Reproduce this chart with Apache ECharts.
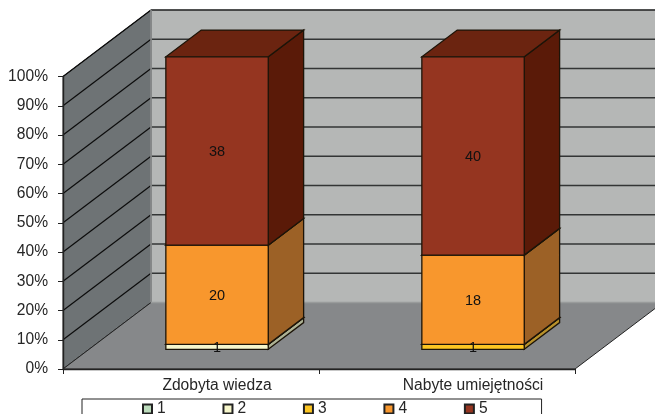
<!DOCTYPE html>
<html>
<head>
<meta charset="utf-8">
<style>
  html, body { margin: 0; padding: 0; background: #fff; }
  #chart { width: 655px; height: 414px; }
</style>
<script src="https://cdn.jsdelivr.net/npm/echarts@6/dist/echarts.min.js"></script>
</head>
<body>
<div id="chart"></div>
<script>
const categories = ["Zdobyta wiedza", "Nabyte umiejętności"];
const levels = ["1", "2", "3", "4", "5"];
const level1 = [0, 0];
const level2 = [1, 0];
const level3 = [0, 1];
const level4 = [20, 18];
const level5 = [38, 40];
const gridTicks = [0, 10, 20, 30, 40, 50, 60, 70, 80, 90, 100];

const levelValues = [level1, level2, level3, level4, level5];
const frontColors = ["#bcdcbc", "#f7f7cc", "#fcc522", "#f8972d", "#953520"];
const sideColors = ["#7f947f", "#adb294", "#b8912a", "#9c6126", "#5a1a08"];
const topColors = ["#94ad94", "#c4c69e", "#cfa326", "#b87a2a", "#6b2410"];

const FONT = "'Liberation Sans', Arial, sans-serif";
const TEXT = "#262626";
const EDGE = "#1c1408";
// how far the chart box goes back, in pixels
const BOX_X = 88;
const BOX_Y = 66.5;
// front and back of the bars inside that depth
const BAR_FRONT = 0.296;
const BAR_BACK = 0.698;

// percent stack for each category
const totals = categories.map((c, i) => levelValues.reduce((sum, v) => sum + v[i], 0));

function stackData(levelIndex) {
  return categories.map((c, i) => {
    let below = 0;
    for (let k = 0; k < levelIndex; k++) below += levelValues[k][i];
    const value = levelValues[levelIndex][i];
    return [i, below / totals[i] * 100, (below + value) / totals[i] * 100, value];
  });
}

function poly(points, fill, z2) {
  return {
    type: "polygon",
    z2: z2 || 0,
    shape: { points: points },
    style: { fill: fill, stroke: EDGE, lineWidth: 1.3 }
  };
}

function renderBox(params, api) {
  const sys = params.coordSys;
  const left = sys.x;
  const right = sys.x + sys.width;
  const top = sys.y;
  const bottom = sys.y + sys.height;
  const children = [
    { type: "polygon", shape: { points: [[left + BOX_X, top - BOX_Y], [right + BOX_X, top - BOX_Y], [right + BOX_X, bottom - BOX_Y], [left + BOX_X, bottom - BOX_Y]] }, style: { fill: "#b5b7b6", stroke: "#444", lineWidth: 1 } },
    { type: "polygon", shape: { points: [[left, top], [left + BOX_X, top - BOX_Y], [left + BOX_X, bottom - BOX_Y], [left, bottom]] }, style: { fill: "#6e7375", stroke: "#222", lineWidth: 1 } },
    { type: "polygon", shape: { points: [[left, bottom], [right, bottom], [right + BOX_X, bottom - BOX_Y], [left + BOX_X, bottom - BOX_Y]] }, style: { fill: "#86888a", stroke: "#222", lineWidth: 1 } }
  ];
  gridTicks.forEach(t => {
    const y = api.coord([0, t])[1];
    if (t > 0) {
      children.push({ type: "line", shape: { x1: left + BOX_X, y1: y - BOX_Y, x2: right + BOX_X, y2: y - BOX_Y }, style: { stroke: "#333535", lineWidth: 1.6 } });
      children.push({ type: "line", shape: { x1: left, y1: y, x2: left + BOX_X, y2: y - BOX_Y }, style: { stroke: "#0c0c0c", lineWidth: 1.2 } });
    }
  });
  // light edges where the walls meet
  children.push({ type: "line", shape: { x1: left + BOX_X, y1: top - BOX_Y, x2: left + BOX_X, y2: bottom - BOX_Y }, style: { stroke: "#999b9b", lineWidth: 1.5 } });
  children.push({ type: "line", shape: { x1: left + BOX_X, y1: bottom - BOX_Y, x2: right + BOX_X, y2: bottom - BOX_Y }, style: { stroke: "#999b9b", lineWidth: 1.5 } });
  return { type: "group", children: children };
}

function renderSegment(params, api) {
  const value = api.value(3);
  if (!value) return null;
  const levelIndex = params.seriesIndex - 1;
  const band = api.size([1, 0])[0];
  const barWidth = band / 2.5;
  const center = api.coord([api.value(0), 0])[0];
  const low = api.coord([api.value(0), api.value(1)])[1];
  const high = api.coord([api.value(0), api.value(2)])[1];
  const fx = BOX_X * BAR_FRONT;
  const fy = BOX_Y * BAR_FRONT;
  const bx = BOX_X * BAR_BACK;
  const by = BOX_Y * BAR_BACK;
  const x0 = center - barWidth / 2 + fx;
  const x1 = center + barWidth / 2 + fx;
  const dx = bx - fx;
  const dy = by - fy;
  const y0 = low - fy;
  const y1 = high - fy;
  return {
    type: "group",
    children: [
      poly([[x1, y0], [x1 + dx, y0 - dy], [x1 + dx, y1 - dy], [x1, y1]], sideColors[levelIndex]),
      poly([[x0, y1], [x1, y1], [x1 + dx, y1 - dy], [x0 + dx, y1 - dy]], topColors[levelIndex]),
      poly([[x0, y0], [x1, y0], [x1, y1], [x0, y1]], frontColors[levelIndex]),
      {
        type: "text",
        z2: 100,
        style: {
          x: (x0 + x1) / 2,
          y: (y0 + y1) / 2 + 1,
          text: String(value),
          align: "center",
          verticalAlign: "middle",
          fill: "#111",
          font: "14.5px " + FONT
        }
      }
    ]
  };
}

const series = [
  {
    type: "custom",
    name: "box",
    z: 1,
    silent: true,
    renderItem: renderBox,
    data: [[0, 0]],
    encode: { x: 0, y: 1 }
  }
].concat(levels.map((name, i) => ({
  type: "custom",
  name: name,
  z: 2,
  silent: true,
  renderItem: renderSegment,
  itemStyle: { color: frontColors[i], borderColor: "#222", borderWidth: 1 },
  data: stackData(i),
  encode: { x: 0, y: [1, 2] }
})));

const chart = echarts.init(document.getElementById("chart"), null, { renderer: "canvas" });
chart.setOption({
  animation: false,
  backgroundColor: "#fff",
  grid: { left: 63, right: 80, top: 76.5, bottom: 45 },
  legend: {
    left: 82,
    top: 399,
    padding: [2, 54, 10, 60],
    orient: "horizontal",
    data: levels,
    icon: "rect",
    itemWidth: 9,
    itemHeight: 9,
    itemGap: 56.8,
    borderColor: "#222",
    borderWidth: 1,
    backgroundColor: "#fff",
    selectedMode: false,
    textStyle: { fontFamily: FONT, fontSize: 15.6, color: TEXT }
  },
  xAxis: {
    type: "category",
    z: 3,
    data: categories,
    axisLine: { lineStyle: { color: "#222", width: 1.4 } },
    axisTick: { show: true, length: 5, lineStyle: { color: "#222" } },
    axisLabel: {
      fontFamily: FONT,
      fontSize: 15.6,
      color: TEXT,
      margin: 9,
      padding: [0, 0, 0, 52],
      interval: 0
    }
  },
  yAxis: {
    type: "value",
    z: 3,
    min: 0,
    max: 100,
    interval: 10,
    splitLine: { show: false },
    axisLine: { show: true, lineStyle: { color: "#222", width: 1.4 } },
    axisTick: { show: true, length: 5, lineStyle: { color: "#222" } },
    axisLabel: {
      fontFamily: FONT,
      fontSize: 15.6,
      color: TEXT,
      margin: 15,
      formatter: "{value}%"
    }
  },
  series: series
});
</script>
</body>
</html>
